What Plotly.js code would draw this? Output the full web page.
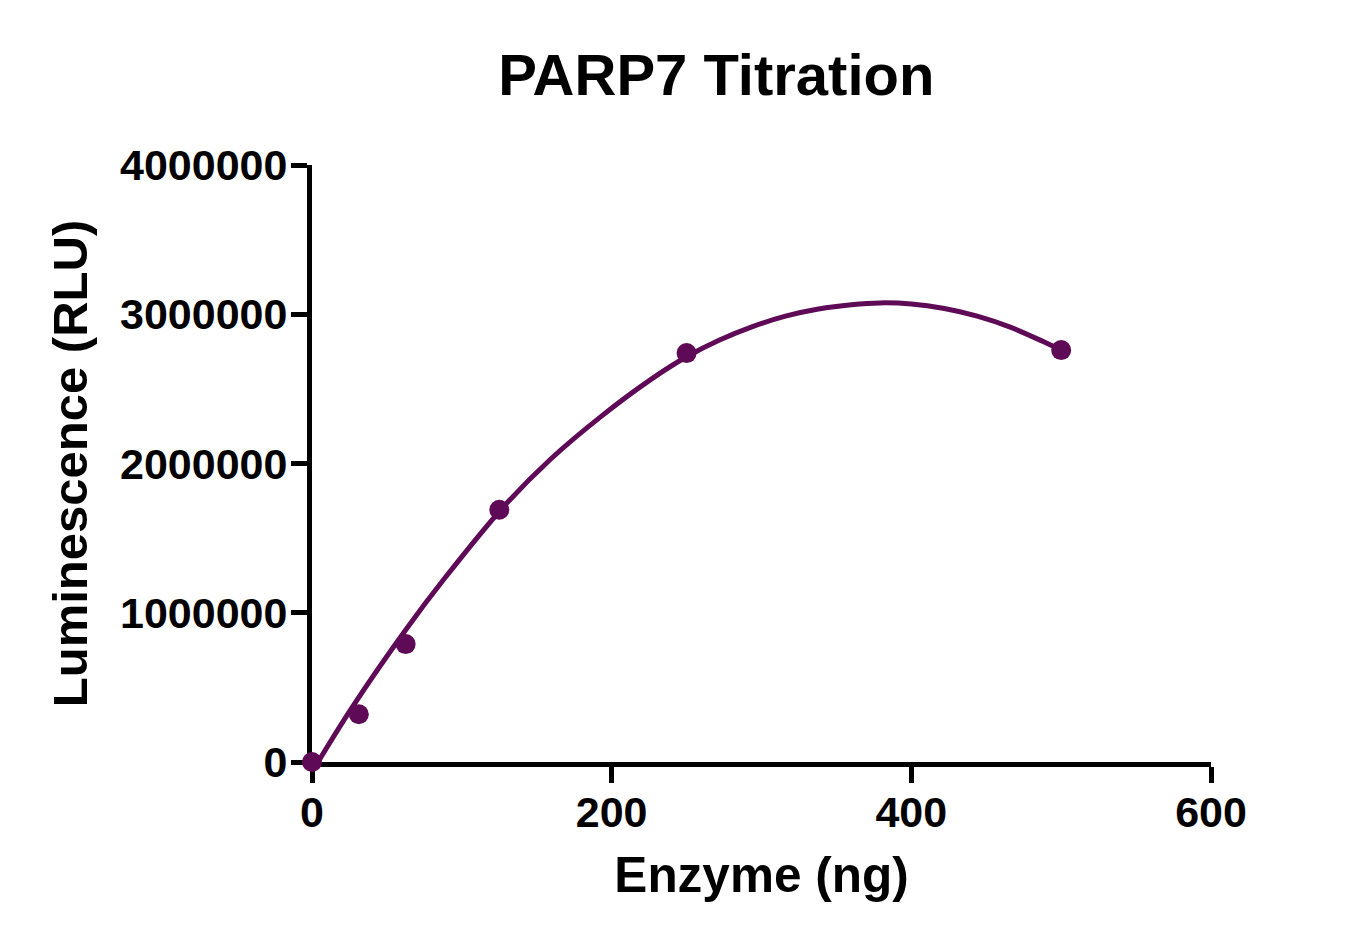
<!DOCTYPE html>
<html>
<head>
<meta charset="utf-8">
<script src="https://cdn.plot.ly/plotly-3.0.1.min.js"></script>
<style>
  html, body { margin: 0; padding: 0; background: #fff; }
  #myDiv { width: 1349px; height: 946px; }
</style>
</head>
<body>
<div id="myDiv"></div>
<script>
// measured points
var enzyme_ng = [0, 31.25, 62.5, 125, 250, 500];
var rlu = [0, 320000, 790000, 1690000, 2740000, 2760000];

// fitted curve
var fit_x = [4, 27, 62.5, 88, 128, 159, 193, 226, 250, 272, 294, 316, 338, 360, 379, 400, 422, 444, 466, 488, 500];
var fit_y = [0, 370000, 885000, 1224000, 1712000, 2027000, 2316000, 2562000, 2715000, 2827000, 2917000, 2987000, 3035000, 3064000, 3076000, 3069000, 3039000, 2988000, 2914000, 2817000, 2760000];

var purple = '#5f0a57';
var font = 'Arial, "Liberation Sans", sans-serif';

var fit = {
  x: fit_x,
  y: fit_y,
  type: 'scatter',
  mode: 'lines',
  line: {color: purple, width: 5, shape: 'spline', smoothing: 1},
  hoverinfo: 'skip',
  showlegend: false
};

var points = {
  x: enzyme_ng,
  y: rlu,
  type: 'scatter',
  mode: 'markers',
  marker: {color: purple, size: 20},
  cliponaxis: false,
  showlegend: false
};

var axisStyle = {
  showline: true,
  linecolor: '#000',
  linewidth: 5,
  ticks: 'outside',
  ticklen: 16,
  tickwidth: 5,
  tickcolor: '#000',
  showgrid: false,
  zeroline: false,
  layer: 'below traces',
  tickfont: {family: font, size: 43, color: '#000', weight: 'bold'}
};

var layout = {
  width: 1349,
  height: 946,
  margin: {l: 312, r: 138, t: 165, b: 184},
  paper_bgcolor: '#fff',
  plot_bgcolor: '#fff',
  title: {
    text: 'PARP7 Titration',
    font: {family: font, size: 58, color: '#000', weight: 'bold'},
    xref: 'container', x: 0.531, xanchor: 'center',
    yref: 'container', y: 0.921, yanchor: 'middle'
  },
  xaxis: Object.assign({}, axisStyle, {
    range: [0, 600],
    dtick: 200,
    tick0: 0,
    ticklabelstandoff: -8,
    title: {text: 'Enzyme (ng)', standoff: 24,
      font: {family: font, size: 49.5, color: '#000', weight: 'bold'}}
  }),
  yaxis: Object.assign({}, axisStyle, {
    range: [0, 4000000],
    dtick: 1000000,
    tick0: 0,
    tickformat: 'd',
    ticklabelstandoff: -5,
    title: {text: 'Luminescence (RLU)', standoff: 18,
      font: {family: font, size: 49, color: '#000', weight: 'bold'}}
  })
};

Plotly.newPlot('myDiv', [fit, points], layout, {displayModeBar: false, staticPlot: true});
</script>
</body>
</html>
